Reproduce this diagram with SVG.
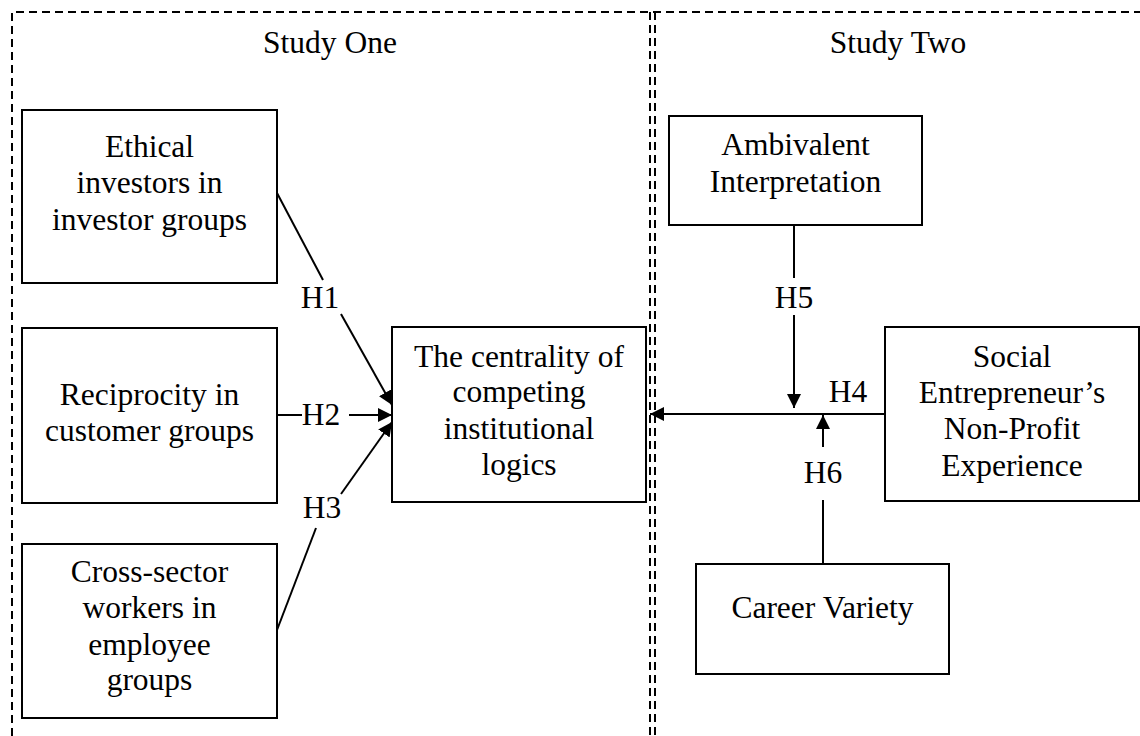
<svg xmlns="http://www.w3.org/2000/svg" width="1140" height="736" viewBox="0 0 1140 736">
<style>
.box{fill:#fff;stroke:#000;stroke-width:2}
.t{font-family:"Liberation Serif","Times New Roman",serif;font-size:31.5px;fill:#000;text-anchor:middle}
.dash{fill:none;stroke:#000;stroke-width:2;stroke-dasharray:8 5}
.c{fill:none;stroke:#000;stroke-width:2}
</style>
<defs>
<marker id="arr" viewBox="0 0 14 14" refX="14" refY="7" markerWidth="14" markerHeight="14" markerUnits="userSpaceOnUse" orient="auto">
<path d="M0,0 L14,7 L0,14 Z" fill="#000"/>
</marker>
</defs>
<rect width="1140" height="736" fill="#fff"/>
<g id="frame">
<path class="dash" d="M12,736 V12 H1140"/>
<path class="dash" d="M650,12 V736"/>
<path class="dash" d="M655,12 V736"/>
<text class="t" x="330" y="53">Study One</text>
<text class="t" x="898" y="53">Study Two</text>
</g>
<g id="connectors">
<path class="c" d="M277,193 L323,280"/>
<path class="c" d="M341,314 L392,405" marker-end="url(#arr)"/>
<path class="c" d="M277,415 L302,415"/>
<path class="c" d="M349,415 L392,415" marker-end="url(#arr)"/>
<path class="c" d="M277,630 L316,528"/>
<path class="c" d="M341,494 L392,422" marker-end="url(#arr)"/>
<path class="c" d="M885,414 L650,414" marker-end="url(#arr)"/>
<path class="c" d="M794,225 L794,278"/>
<path class="c" d="M794,315 L794,408" marker-end="url(#arr)"/>
<path class="c" d="M823,564 L823,500"/>
<path class="c" d="M823,447 L823,415" marker-end="url(#arr)"/>
<text class="t" x="320" y="308">H1</text>
<text class="t" x="321" y="425">H2</text>
<text class="t" x="322" y="518">H3</text>
<text class="t" x="848" y="402">H4</text>
<text class="t" x="794" y="308">H5</text>
<text class="t" x="823" y="483">H6</text>
</g>
<g id="n-ethical">
<rect class="box" x="22" y="110" width="255" height="173"/>
<text class="t" x="149.5" y="157">Ethical</text>
<text class="t" x="149.5" y="193">investors in</text>
<text class="t" x="149.5" y="230">investor groups</text>
</g>
<g id="n-reciprocity">
<rect class="box" x="22" y="328" width="255" height="175"/>
<text class="t" x="149.5" y="405">Reciprocity in</text>
<text class="t" x="149.5" y="441">customer groups</text>
</g>
<g id="n-cross">
<rect class="box" x="22" y="544" width="255" height="174"/>
<text class="t" x="149.5" y="582">Cross-sector</text>
<text class="t" x="149.5" y="618">workers in</text>
<text class="t" x="149.5" y="655">employee</text>
<text class="t" x="149.5" y="690">groups</text>
</g>
<g id="n-centrality">
<rect class="box" x="392" y="327" width="254" height="175"/>
<text class="t" x="519" y="367">The centrality of</text>
<text class="t" x="519" y="402">competing</text>
<text class="t" x="519" y="439">institutional</text>
<text class="t" x="519" y="475">logics</text>
</g>
<g id="n-ambivalent">
<rect class="box" x="669" y="116" width="253" height="109"/>
<text class="t" x="795.5" y="155">Ambivalent</text>
<text class="t" x="795.5" y="192">Interpretation</text>
</g>
<g id="n-social">
<rect class="box" x="885" y="327" width="254" height="174"/>
<text class="t" x="1012" y="367">Social</text>
<text class="t" x="1012" y="403">Entrepreneur’s</text>
<text class="t" x="1012" y="439">Non-Profit</text>
<text class="t" x="1012" y="476">Experience</text>
</g>
<g id="n-career">
<rect class="box" x="696" y="564" width="253" height="110"/>
<text class="t" x="822.5" y="618">Career Variety</text>
</g>
</svg>
